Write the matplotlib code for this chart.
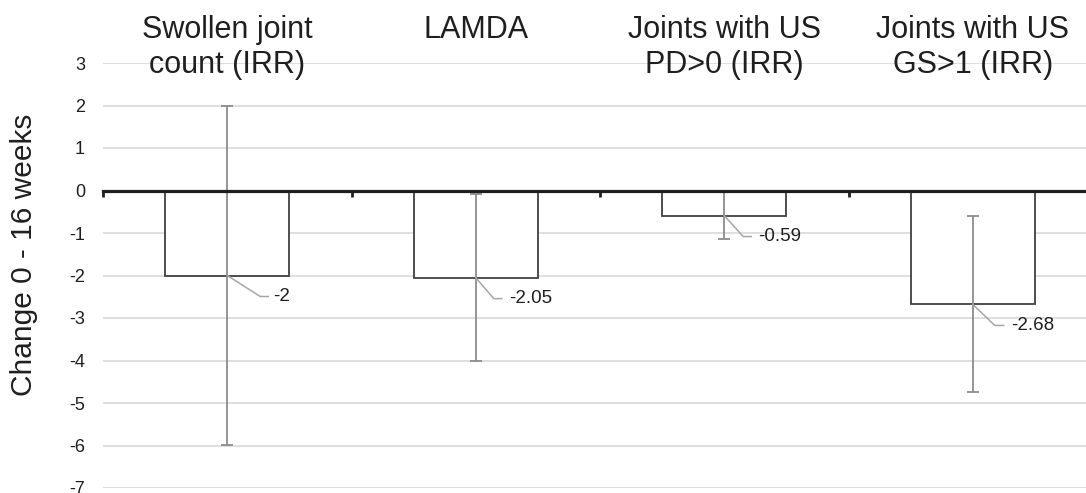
import matplotlib.pyplot as plt
import matplotlib.transforms as mtransforms
import numpy as np

plt.rcParams['font.family'] = ['Liberation Sans', 'DejaVu Sans']
plt.rcParams['axes.unicode_minus'] = False

# data
categories = ['Swollen joint\ncount (IRR)', 'LAMDA',
              'Joints with US\nPD>0 (IRR)', 'Joints with US\nGS>1 (IRR)']
changes = [-2.0, -2.05, -0.59, -2.68]
ci_low = [-5.98, -4.02, -1.15, -4.75]
ci_high = [1.98, -0.09, -0.03, -0.61]
value_labels = ['-2', '-2.05', '-0.59', '-2.68']
y_ticks = list(range(-7, 4))

# leader line offsets for the value labels (pixels)
lead_dx = [33, 18, 19, 22]
lead_end = [41, 26, 27, 31]
text_dx = [46, 33, 34, 38]
lead_dy = 21

text_col = '#1f1f1f'

fig = plt.figure(figsize=(10.86, 4.93), dpi=100)
W, H = 1086.0, 493.0
# plot area runs a bit past the right edge, as in the original
ax = fig.add_axes([103 / W, 5 / H, 994 / W, 425 / H])

x = np.arange(len(categories))
ax.bar(x, changes, width=0.5, color='white', edgecolor='#404040',
       linewidth=1.3, zorder=2)

yerr = [np.array(changes) - np.array(ci_low), np.array(ci_high) - np.array(changes)]
ax.errorbar(x, changes, yerr=yerr, fmt='none', ecolor='#8c8c8c',
            elinewidth=1.3, capsize=4.5, capthick=1.3, zorder=3)

ax.set_xlim(-0.5, len(categories) - 0.5)
ax.set_ylim(-7, 3)

# pixel -> data unit conversions
px_x = 1.0 / 248.5
px_y = 1.0 / 42.5

for i, v in enumerate(changes):
    xs = [x[i], x[i] + lead_dx[i] * px_x, x[i] + lead_end[i] * px_x]
    ys = [v, v - lead_dy * px_y, v - lead_dy * px_y]
    ax.plot(xs, ys, color='#a6a6a6', lw=1.1, zorder=4, clip_on=False)
    ax.text(x[i] + text_dx[i] * px_x, v - lead_dy * px_y, value_labels[i],
            ha='left', va='center', fontsize=13.5, color=text_col, zorder=5)

# category titles above the plot
trans = mtransforms.blended_transform_factory(ax.transData, fig.transFigure)
for i, lab in enumerate(categories):
    ax.text(x[i], 1 - 15 / H, lab, transform=trans, ha='center', va='top',
            fontsize=22, color=text_col, linespacing=1.22, clip_on=False)

ax.set_yticks(y_ticks)
ax.yaxis.grid(True, color='#dcdcdc', lw=1.3)
ax.set_axisbelow(True)
ax.tick_params(axis='y', length=0, pad=13, labelsize=13, labelcolor=text_col)

for s in ['left', 'right', 'top']:
    ax.spines[s].set_visible(False)
ax.spines['bottom'].set_position(('data', 0))
ax.spines['bottom'].set_color(text_col)
ax.spines['bottom'].set_linewidth(2.3)
ax.spines['bottom'].set_zorder(6)
ax.set_xticks(np.arange(len(categories) + 1) - 0.5)
ax.set_xticklabels([])
ax.tick_params(axis='x', direction='out', length=4, width=2, color=text_col)

fig.text(24 / W, 1 - 255 / H, 'Change 0 - 16 weeks', rotation=90,
         ha='center', va='center', fontsize=21.5, color=text_col)

fig.savefig('out.png', dpi=100)
